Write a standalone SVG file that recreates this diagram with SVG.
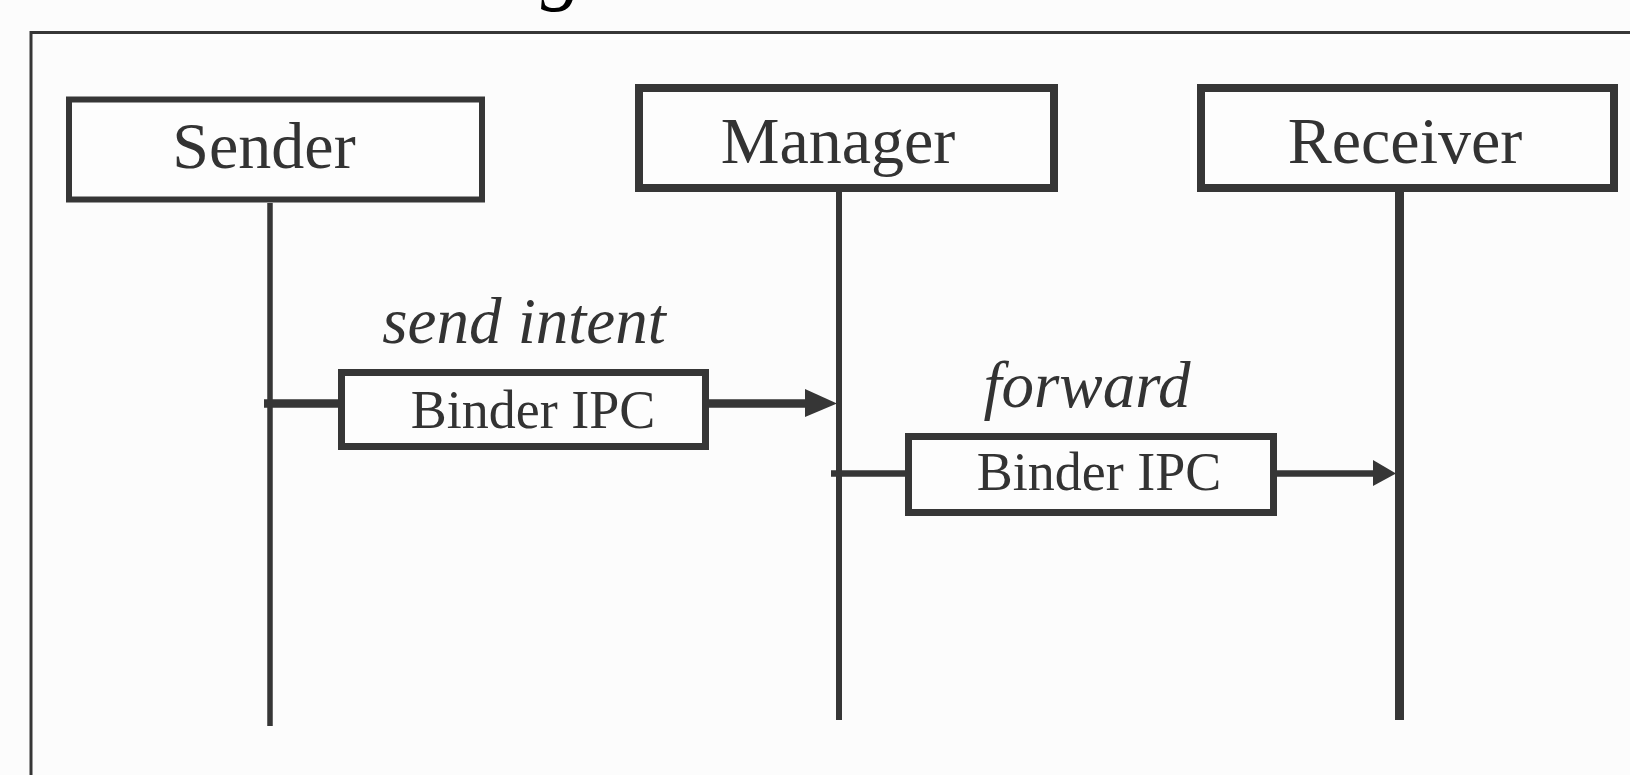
<svg xmlns="http://www.w3.org/2000/svg" width="1630" height="775" viewBox="0 0 1630 775">
  <defs>
    <style>
      .bg { fill: #fcfcfc; }
      .frame { fill: none; stroke: #363636; stroke-width: 3; }
      .box { fill: #fdfdfd; stroke: #363636; }
      .life { stroke: #363636; fill: none; }
      .msg { stroke: #363636; fill: none; }
      .head { fill: #363636; }
      .lbl { font-family: "Liberation Serif", "Times New Roman", serif; fill: #333333; text-anchor: middle; }
      .title { font-size: 66px; }
      .ipc { font-size: 54px; }
      .act { font-size: 65px; font-style: italic; }
    </style>
  </defs>

  <rect class="bg" x="0" y="0" width="1630" height="775"/>

  <!-- caption text running off the top edge -->
  <text x="562" y="-6" font-family="Liberation Serif, serif" font-style="italic" font-size="84" fill="#000" text-anchor="middle">g</text>

  <!-- outer frame, continues past the right and bottom edges -->
  <rect class="frame" x="31" y="32.5" width="1700" height="900"/>

  <!-- lifelines -->
  <g id="lifelines">
    <line class="life" x1="270" y1="203" x2="270" y2="726" stroke-width="5.5"/>
    <line class="life" x1="839" y1="190" x2="839" y2="720" stroke-width="6"/>
    <line class="life" x1="1399.5" y1="190" x2="1399.5" y2="720" stroke-width="9"/>
  </g>

  <!-- participants -->
  <g id="sender">
    <rect class="box" x="69" y="99.5" width="413" height="100" stroke-width="6"/>
    <text class="lbl title" x="264" y="168">Sender</text>
  </g>
  <g id="manager">
    <rect class="box" x="639" y="88" width="415" height="100" stroke-width="8"/>
    <text class="lbl title" x="838" y="163">Manager</text>
  </g>
  <g id="receiver">
    <rect class="box" x="1201" y="88" width="413" height="100" stroke-width="8"/>
    <text class="lbl title" x="1405" y="163">Receiver</text>
  </g>

  <!-- messages -->
  <g id="connectors">
    <line class="msg" x1="264" y1="403.5" x2="808" y2="403.5" stroke-width="8.5"/>
    <polygon class="head" points="805,389 837,403.5 805,417"/>
    <line class="msg" x1="831" y1="473.5" x2="1376" y2="473.5" stroke-width="6.5"/>
    <polygon class="head" points="1373,460 1396,473.5 1373,486"/>
  </g>

  <g id="ipc-send">
    <rect class="box" x="341.5" y="372.5" width="364" height="74" stroke-width="7"/>
    <text class="lbl ipc" x="533" y="428">Binder IPC</text>
  </g>
  <g id="ipc-forward">
    <rect class="box" x="908.5" y="436.5" width="365" height="76" stroke-width="7"/>
    <text class="lbl ipc" x="1099" y="490">Binder IPC</text>
  </g>

  <g id="labels">
    <text class="lbl act" x="524" y="343">send intent</text>
    <text class="lbl act" x="1087" y="407">forward</text>
  </g>
</svg>
